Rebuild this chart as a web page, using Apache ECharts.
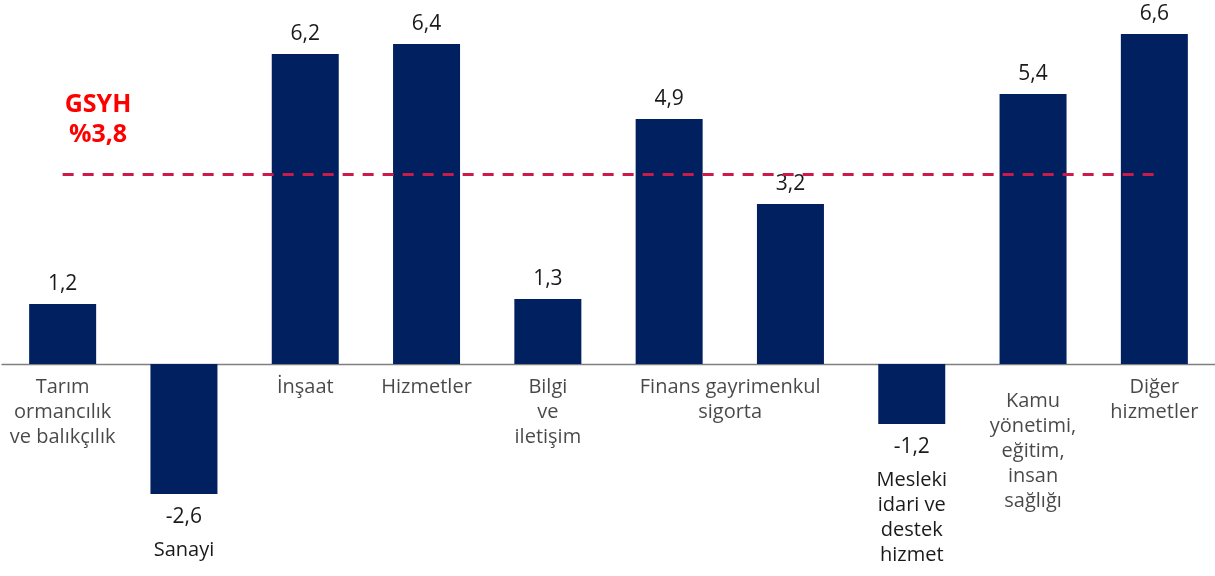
<!DOCTYPE html>
<html>
<head>
<meta charset="utf-8">
<script src="https://cdn.jsdelivr.net/npm/echarts@6/dist/echarts.min.js"></script>
<style>html,body{margin:0;padding:0;background:#fff;overflow:hidden;}#c{width:1215px;height:576px;}</style>
</head>
<body>
<div id="c"></div>
<script>
const categories = [
  'Tarım\normancılık\nve balıkçılık',
  'Sanayi',
  'İnşaat',
  'Hizmetler',
  'Bilgi\nve\niletişim',
  'Finans gayrimenkul\nsigorta',
  '',
  'Mesleki\nidari ve\ndestek\nhizmet',
  'Kamu\nyönetimi,\neğitim,\ninsan\nsağlığı',
  'Diğer\nhizmetler'
];
const values = [1.2, -2.6, 6.2, 6.4, 1.3, 4.9, 3.2, -1.2, 5.4, 6.6];
const gdpGrowth = 3.8;
const gdpLabel = 'GSYH\n%3,8';

const FONT = 'Open Sans';
const TXT = '#1a1a1a';
const fmt = v => v.toFixed(1).replace('.', ',');

// per-category label style tweaks (by index)
const labelTweaks = {5: {padding: [0, 0, 0, 122]}, 8: {padding: [14, 0, 0, 0]}};

const chart = echarts.init(document.getElementById('c'));
chart.setOption({
  animation: false,
  grid: {left: 2, right: 0, top: 14, bottom: 12, containLabel: false, outerBoundsMode: 'none'},
  xAxis: {
    type: 'category',
    data: categories.map((c, i) => 'c' + i),
    axisLine: {onZero: true, lineStyle: {color: '#7f7f7f', width: 1.3}},
    axisTick: {show: false},
    axisLabel: {show: false}
  },
  yAxis: {type: 'value', min: -4, max: 7, show: false, splitLine: {show: false}},
  graphic: [{
    type: 'text', x: 98, y: 90,
    style: {text: gdpLabel, font: 'bold 25px ' + FONT, fill: '#ff0000', align: 'center', verticalAlign: 'top', lineHeight: 30}
  }],
  series: [{
    type: 'bar',
    barWidth: 67,
    itemStyle: {color: '#002060'},
    data: values.map((v, i) => v >= 0 ? {
      value: v,
      label: {show: true, position: 'top', distance: 9, formatter: fmt(v)}
    } : {
      value: v,
      label: {
        show: true, position: 'bottom', distance: 2,
        formatter: '{v|' + fmt(v) + '}\n{n|' + categories[i] + '}',
        rich: {
          v: {fontFamily: FONT, fontSize: 21, lineHeight: 42, color: TXT},
          n: {fontFamily: FONT, fontSize: 20, lineHeight: 25, color: TXT}
        }
      }
    }),
    label: {fontFamily: FONT, fontSize: 21, color: TXT, lineHeight: 22},
    markLine: {
      silent: true, symbol: 'none',
      label: {show: false},
      lineStyle: {type: [11, 9], width: 3, color: '#cc1a4a'},
      data: [[{coord: [0, gdpGrowth]}, {coord: [values.length - 1, gdpGrowth]}]]
    }
  }, {
    // category names under the zero line for non-negative bars
    type: 'scatter',
    symbolSize: 0,
    silent: true,
    data: values.map((v, i) => v >= 0 && categories[i] ? {
      value: [i, 0],
      label: Object.assign({show: true, formatter: categories[i]}, labelTweaks[i] || {})
    } : null).filter(d => d),
    label: {position: 'bottom', distance: 11, fontFamily: FONT, fontSize: 20, lineHeight: 25, color: TXT, align: 'center', verticalAlign: 'top'}
  }]
});
</script>
</body>
</html>
